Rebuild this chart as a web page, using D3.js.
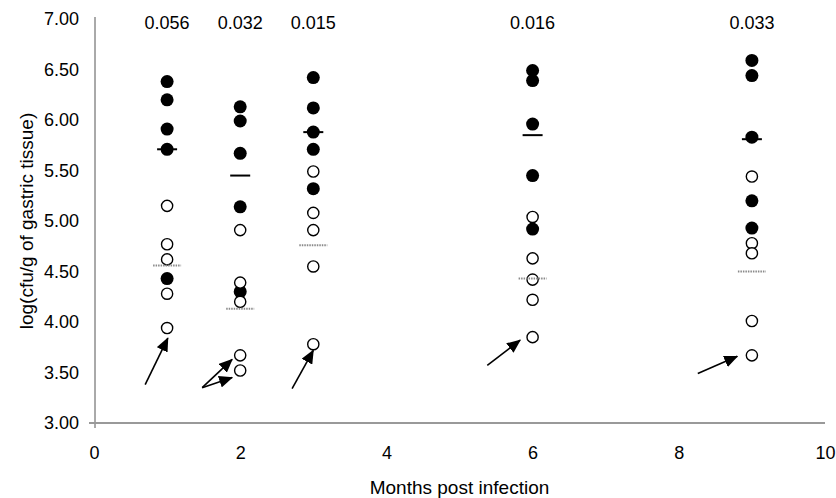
<!DOCTYPE html>
<html>
<head>
<meta charset="utf-8">
<script src="https://cdn.jsdelivr.net/npm/d3@7"></script>
<style>
  body { margin: 0; background: #fff; }
  svg text { font-family: "Liberation Sans", Arial, sans-serif; fill: #000; }
</style>
</head>
<body>
<div id="chart"></div>
<script>
// Data
var months = [1, 2, 3, 6, 9];
var pValues = ["0.056", "0.032", "0.015", "0.016", "0.033"];

// filled circles, one list per month
var filledValues = [
  [6.38, 6.20, 5.91, 5.71, 4.43],
  [6.13, 5.99, 5.67, 5.14, 4.30],
  [6.42, 6.12, 5.88, 5.71, 5.32],
  [6.49, 6.39, 5.96, 5.45, 4.92],
  [6.59, 6.44, 5.83, 5.20, 4.93]
];
// open circles, one list per month
var openValues = [
  [5.15, 4.77, 4.62, 4.28, 3.94],
  [4.91, 4.39, 4.20, 3.67, 3.52],
  [5.49, 5.08, 4.91, 4.55, 3.78],
  [5.04, 4.63, 4.42, 4.22, 3.85],
  [5.44, 4.78, 4.68, 4.01, 3.67]
];
// mean bars
var filledMeans = [5.71, 5.45, 5.88, 5.85, 5.81];
var openMeans = [4.56, 4.13, 4.76, 4.43, 4.50];

// arrows: [fromMonth, fromValue, toMonth, toValue]
var arrows = [
  [0.70, 3.38, 1.01, 3.84],
  [1.48, 3.35, 1.89, 3.63],
  [1.48, 3.35, 1.89, 3.45],
  [2.71, 3.34, 3.00, 3.72],
  [5.38, 3.57, 5.83, 3.82],
  [8.26, 3.49, 8.80, 3.66]
];

var xTicks = [0, 2, 4, 6, 8, 10];
var yTicks = [3, 3.5, 4, 4.5, 5, 5.5, 6, 6.5, 7];

// SVG container
var svgWidth = 836;
var svgHeight = 498;

var svg = d3.select("#chart").append("svg")
  .attr("width", svgWidth)
  .attr("height", svgHeight);

// scales
var xScale = d3.scaleLinear().domain([0, 10]).range([94, 825]);
var yScale = d3.scaleLinear().domain([3, 7]).range([423, 19]);

// top of the picture is cropped (rect in the axis group's coordinates)
svg.append("clipPath").attr("id", "topcut")
  .append("rect").attr("x", -xScale(0)).attr("y", 12).attr("width", svgWidth).attr("height", svgHeight);

// y axis
var yAxis = d3.axisLeft(yScale)
  .tickValues(yTicks)
  .tickSize(0)
  .tickPadding(15)
  .tickFormat(d3.format(".2f"));

var yAxisG = svg.append("g")
  .attr("transform", "translate(" + xScale(0) + ",0)")
  .attr("clip-path", "url(#topcut)")
  .call(yAxis);
yAxisG.select(".domain").remove();
yAxisG.selectAll("text").style("font-size", "18px");

svg.append("line")
  .attr("x1", xScale(0) + 1).attr("x2", xScale(0) + 1)
  .attr("y1", yScale(7) - 2).attr("y2", yScale(3) + 5)
  .attr("stroke", "#555")
  .attr("stroke-width", 1);

// x axis
var xAxis = d3.axisBottom(xScale)
  .tickValues(xTicks)
  .tickSize(0)
  .tickPadding(23);

var xAxisG = svg.append("g")
  .attr("transform", "translate(0," + yScale(3) + ")")
  .call(xAxis);
xAxisG.select(".domain").remove();
xAxisG.selectAll("text").style("font-size", "18px");

svg.append("line")
  .attr("x1", xScale(0) - 5).attr("x2", xScale(10))
  .attr("y1", yScale(3)).attr("y2", yScale(3))
  .attr("stroke", "#999")
  .attr("stroke-width", 2);

// axis titles
svg.append("text")
  .attr("transform", "translate(33," + yScale(5.0) + ") rotate(-90)")
  .attr("text-anchor", "middle")
  .style("font-size", "19px")
  .text("log(cfu/g of gastric tissue)");

svg.append("text")
  .attr("x", xScale(5))
  .attr("y", 494)
  .attr("text-anchor", "middle")
  .style("font-size", "19px")
  .text("Months post infection");

// p values
svg.selectAll(".pval")
  .data(pValues)
  .enter()
  .append("text")
  .attr("class", "pval")
  .attr("x", (d, i) => xScale(months[i]))
  .attr("y", 29)
  .attr("text-anchor", "middle")
  .style("font-size", "18px")
  .text(d => d);

// flatten points
var filledPts = [];
filledValues.forEach((vals, i) => vals.forEach(v => filledPts.push({ m: months[i], v: v })));
var openPts = [];
openValues.forEach((vals, i) => vals.forEach(v => openPts.push({ m: months[i], v: v })));

// filled circles
svg.append("g").selectAll("circle")
  .data(filledPts)
  .enter()
  .append("circle")
  .attr("cx", d => xScale(d.m))
  .attr("cy", d => yScale(d.v))
  .attr("r", 6.5)
  .attr("fill", "#000");

// open circles
svg.append("g").selectAll("circle")
  .data(openPts)
  .enter()
  .append("circle")
  .attr("cx", d => xScale(d.m))
  .attr("cy", d => yScale(d.v))
  .attr("r", 5.6)
  .attr("fill", "#fff")
  .attr("stroke", "#000")
  .attr("stroke-width", 1.4);

// mean bars
svg.append("g").selectAll("line")
  .data(filledMeans)
  .enter()
  .append("line")
  .attr("x1", (d, i) => xScale(months[i]) - 10)
  .attr("x2", (d, i) => xScale(months[i]) + 10)
  .attr("y1", d => yScale(d))
  .attr("y2", d => yScale(d))
  .attr("stroke", "#000")
  .attr("stroke-width", 2);

svg.append("g").selectAll("line")
  .data(openMeans)
  .enter()
  .append("line")
  .attr("x1", (d, i) => xScale(months[i]) - 14)
  .attr("x2", (d, i) => xScale(months[i]) + 14)
  .attr("y1", d => yScale(d))
  .attr("y2", d => yScale(d))
  .attr("stroke", "#8a8a8a")
  .attr("stroke-width", 2)
  .attr("stroke-dasharray", "1.5,1");

// arrows
svg.append("defs").append("marker")
  .attr("id", "head")
  .attr("markerUnits", "userSpaceOnUse")
  .attr("viewBox", "0 0 14 12")
  .attr("markerWidth", 14)
  .attr("markerHeight", 12)
  .attr("refX", 13)
  .attr("refY", 6)
  .attr("orient", "auto")
  .append("path")
  .attr("d", "M0,0 L14,6 L0,12 Z")
  .attr("fill", "#000");

svg.append("g").selectAll("line")
  .data(arrows)
  .enter()
  .append("line")
  .attr("x1", d => xScale(d[0]))
  .attr("y1", d => yScale(d[1]))
  .attr("x2", d => xScale(d[2]))
  .attr("y2", d => yScale(d[3]))
  .attr("stroke", "#000")
  .attr("stroke-width", 1.6)
  .attr("marker-end", "url(#head)");
</script>
</body>
</html>
